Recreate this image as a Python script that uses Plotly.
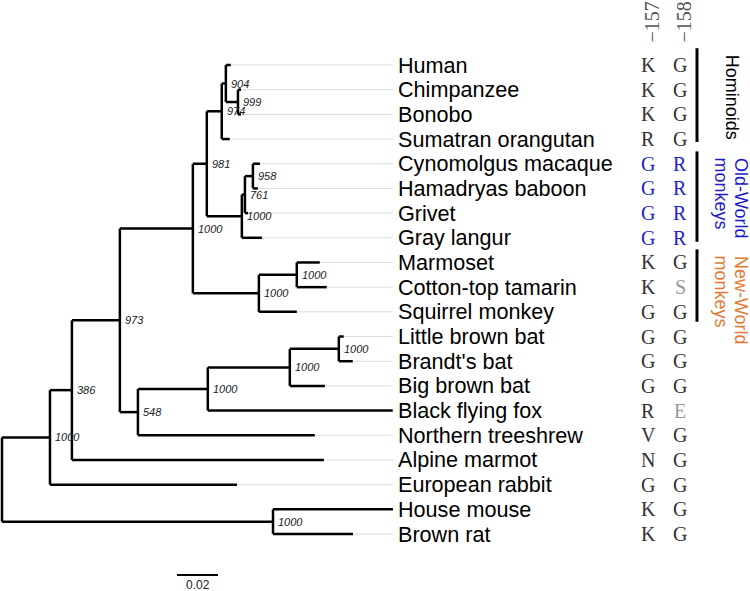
import plotly.graph_objects as go

# ---------------- data ----------------
tips = ["Human", "Chimpanzee", "Bonobo", "Sumatran orangutan", "Cynomolgus macaque",
        "Hamadryas baboon", "Grivet", "Gray langur", "Marmoset", "Cotton-top tamarin",
        "Squirrel monkey", "Little brown bat", "Brandt's bat", "Big brown bat",
        "Black flying fox", "Northern treeshrew", "Alpine marmot", "European rabbit",
        "House mouse", "Brown rat"]
residue_157 = ["K", "K", "K", "R", "G", "G", "G", "G", "K", "K", "G", "G", "G", "G",
               "R", "V", "N", "G", "K", "K"]
residue_158 = ["G", "G", "G", "G", "R", "R", "R", "R", "G", "S", "G", "G", "G", "G",
               "E", "G", "G", "G", "G", "G"]
column_headers = ["\u2212157", "\u2212158"]

# tree edges (parent -> child, branch length in substitutions/site)
edge_parent = ["Root", "Root", "Murinae", "Murinae", "N_A", "N_A", "N_B", "N_B",
               "N_C", "N_C", "Primates", "Primates", "Catarrhini", "Catarrhini",
               "Hominoidea", "Hominoidea", "HCB", "HCB", "Pan", "Pan",
               "Cercopithecidae", "Cercopithecidae", "CHG", "CHG", "CH", "CH",
               "Platyrrhini", "Platyrrhini", "Callitrichinae", "Callitrichinae",
               "N_E", "N_E", "Chiroptera", "Chiroptera", "Vespertilionidae",
               "Vespertilionidae", "Myotis", "Myotis"]
edge_child = ["N_A", "Murinae", "House mouse", "Brown rat", "N_B", "European rabbit",
              "N_C", "Alpine marmot", "Primates", "N_E", "Catarrhini", "Platyrrhini",
              "Hominoidea", "Cercopithecidae", "HCB", "Sumatran orangutan", "Human", "Pan",
              "Chimpanzee", "Bonobo", "CHG", "Gray langur", "CH", "Grivet",
              "Cynomolgus macaque", "Hamadryas baboon", "Callitrichinae", "Squirrel monkey",
              "Marmoset", "Cotton-top tamarin", "Chiroptera", "Northern treeshrew",
              "Vespertilionidae", "Black flying fox", "Myotis", "Big brown bat",
              "Little brown bat", "Brandt's bat"]
edge_length = [0.0234, 0.1322, 0.0585, 0.0390, 0.0107, 0.0912, 0.0234, 0.1229,
               0.0356, 0.0088, 0.0068, 0.0322, 0.0073, 0.0171, 0.0020, 0.0039,
               0.0024, 0.0059, 0.0015, 0.0015, 0.0015, 0.0098, 0.0039, 0.0015,
               0.0034, 0.0024, 0.0185, 0.0185, 0.0112, 0.0146, 0.0341, 0.0863,
               0.0400, 0.0902, 0.0239, 0.0171, 0.0024, 0.0068]

# bootstrap support (out of 1000)
support_nodes = ["N_A", "N_B", "N_C", "Primates", "Catarrhini", "Hominoidea", "HCB", "Pan",
                 "Cercopithecidae", "CHG", "CH", "Platyrrhini", "Callitrichinae", "N_E",
                 "Chiroptera", "Vespertilionidae", "Myotis", "Murinae"]
support_values = [1000, 386, 973, 1000, 981, 974, 904, 999, 1000, 761, 958, 1000, 1000,
                  548, 1000, 1000, 1000, 1000]

group_labels = ["Hominoids", "Old-World<br>monkeys", "New-World<br>monkeys"]
group_first = ["Human", "Cynomolgus macaque", "Marmoset"]
group_last = ["Sumatran orangutan", "Gray langur", "Squirrel monkey"]
group_colors = ["black", "#1c1cc8", "#e5782f"]

scale_length = 0.02

# ---------------- layout of tree ----------------
children = {}
length_of = {}
for p, c, l in zip(edge_parent, edge_child, edge_length):
    children.setdefault(p, []).append(c)
    length_of[c] = l

xpos = {"Root": 0.0}
def set_x(n):
    for c in children.get(n, []):
        xpos[c] = xpos[n] + length_of[c]
        set_x(c)
set_x("Root")

ypos = {t: i for i, t in enumerate(tips)}
def set_y(n):
    if n in ypos:
        return ypos[n]
    ys = [set_y(c) for c in children[n]]
    ypos[n] = (min(ys) + max(ys)) / 2
    return ypos[n]
set_y("Root")

# pixel geometry of the canvas
W, H = 750, 591
PX_PER_UNIT = 2050.0
ROOT_PX = 2
ROW0_PX = 65
ROW_PX = 24.684

xr = [-ROOT_PX / PX_PER_UNIT, (W - ROOT_PX) / PX_PER_UNIT]
yr = [(H - ROW0_PX) / ROW_PX, -ROW0_PX / ROW_PX]

def ypix_to_idx(p):
    return (p - ROW0_PX) / ROW_PX

tx, ty = [], []
for n, cs in children.items():
    ys = [ypos[c] for c in cs]
    tx += [xpos[n], xpos[n], None]
    ty += [min(ys), max(ys), None]
    for c in cs:
        tx += [xpos[n], xpos[c], None]
        ty += [ypos[c], ypos[c], None]

max_depth = max(xpos[t] for t in tips)

fig = go.Figure()

# guide lines
gx, gy = [], []
for t in tips:
    gx += [xpos[t], max_depth, None]
    gy += [ypos[t], ypos[t], None]
fig.add_trace(go.Scatter(x=gx, y=gy, mode="lines",
                         line=dict(color="#dcdcdc", width=1), hoverinfo="skip"))
fig.add_trace(go.Scatter(x=tx, y=ty, mode="lines",
                         line=dict(color="black", width=2.5), hoverinfo="skip"))

# scale bar
sb_x0 = (177 - ROOT_PX) / PX_PER_UNIT
sb_y = ypix_to_idx(575)
fig.add_trace(go.Scatter(x=[sb_x0, sb_x0 + scale_length], y=[sb_y, sb_y], mode="lines",
                         line=dict(color="black", width=2), hoverinfo="skip"))

ann = []
ann.append(dict(x=sb_x0 + scale_length / 2, y=sb_y, text=str(scale_length),
                showarrow=False, yanchor="top", yshift=-1,
                font=dict(family="Liberation Sans, Arial", size=12, color="#222")))

SANS = "Liberation Sans, Arial, sans-serif"
SERIF = "Liberation Serif, serif"

for t in tips:
    ann.append(dict(x=max_depth, y=ypos[t], text=t, showarrow=False,
                    xanchor="left", yanchor="middle", xshift=3,
                    font=dict(family=SANS, size=21.6, color="black")))

for n, v in zip(support_nodes, support_values):
    ann.append(dict(x=xpos[n], y=ypos[n], text="<i>%d</i>" % v, showarrow=False,
                    xanchor="left", yanchor="middle", xshift=3,
                    font=dict(family=SANS, size=11, color="#222")))

owm = set(tips[tips.index(group_first[1]):tips.index(group_last[1]) + 1])
col_px = [648, 680]
for ci, col in enumerate([residue_157, residue_158]):
    for t, r in zip(tips, col):
        if t in owm:
            c = "#2424c8"
        elif r in ("S", "E"):
            c = "#9a9a9a"
        else:
            c = "#333"
        ann.append(dict(x=col_px[ci] / W, xref="paper", y=ypos[t], text=r,
                        showarrow=False, xanchor="center", yanchor="middle",
                        font=dict(family=SERIF, size=20, color=c)))
    ann.append(dict(x=(col_px[ci] + 3) / W, xref="paper", y=1 - 45 / H, yref="paper",
                    text=column_headers[ci], textangle=-90, showarrow=False,
                    xanchor="center", yanchor="bottom",
                    font=dict(family=SERIF, size=20, color="#555")))

bar_off = [(-0.68, 0.12), (-0.5, 0.16), (-0.53, 0.4)]
line_x = [741, 721]
shapes = []
for g, (lab, f, l, col) in enumerate(zip(group_labels, group_first, group_last, group_colors)):
    y0 = ypos[f] + bar_off[g][0]
    y1 = ypos[l] + bar_off[g][1]
    shapes.append(dict(type="line", xref="paper", x0=697 / W, x1=697 / W,
                       yref="y", y0=y0, y1=y1, line=dict(color="black", width=3)))
    parts = lab.split("<br>")
    xs = [732] if len(parts) == 1 else line_x
    for part, lx in zip(parts, xs):
        ann.append(dict(x=lx / W, xref="paper", y=y0, yref="y",
                        text=part, textangle=90, showarrow=False, xanchor="center",
                        yanchor="top", yshift=-4,
                        font=dict(family=SANS, size=18, color=col)))

fig.update_layout(
    width=W, height=H, margin=dict(l=0, r=0, t=0, b=0),
    paper_bgcolor="white", plot_bgcolor="white", showlegend=False,
    xaxis=dict(range=xr, visible=False, fixedrange=True),
    yaxis=dict(range=yr, visible=False, fixedrange=True),
    annotations=ann, shapes=shapes,
)
fig.write_html("out.html", config={"displayModeBar": False},
               post_script="document.body.style.margin='0';document.body.style.overflow='hidden';")
